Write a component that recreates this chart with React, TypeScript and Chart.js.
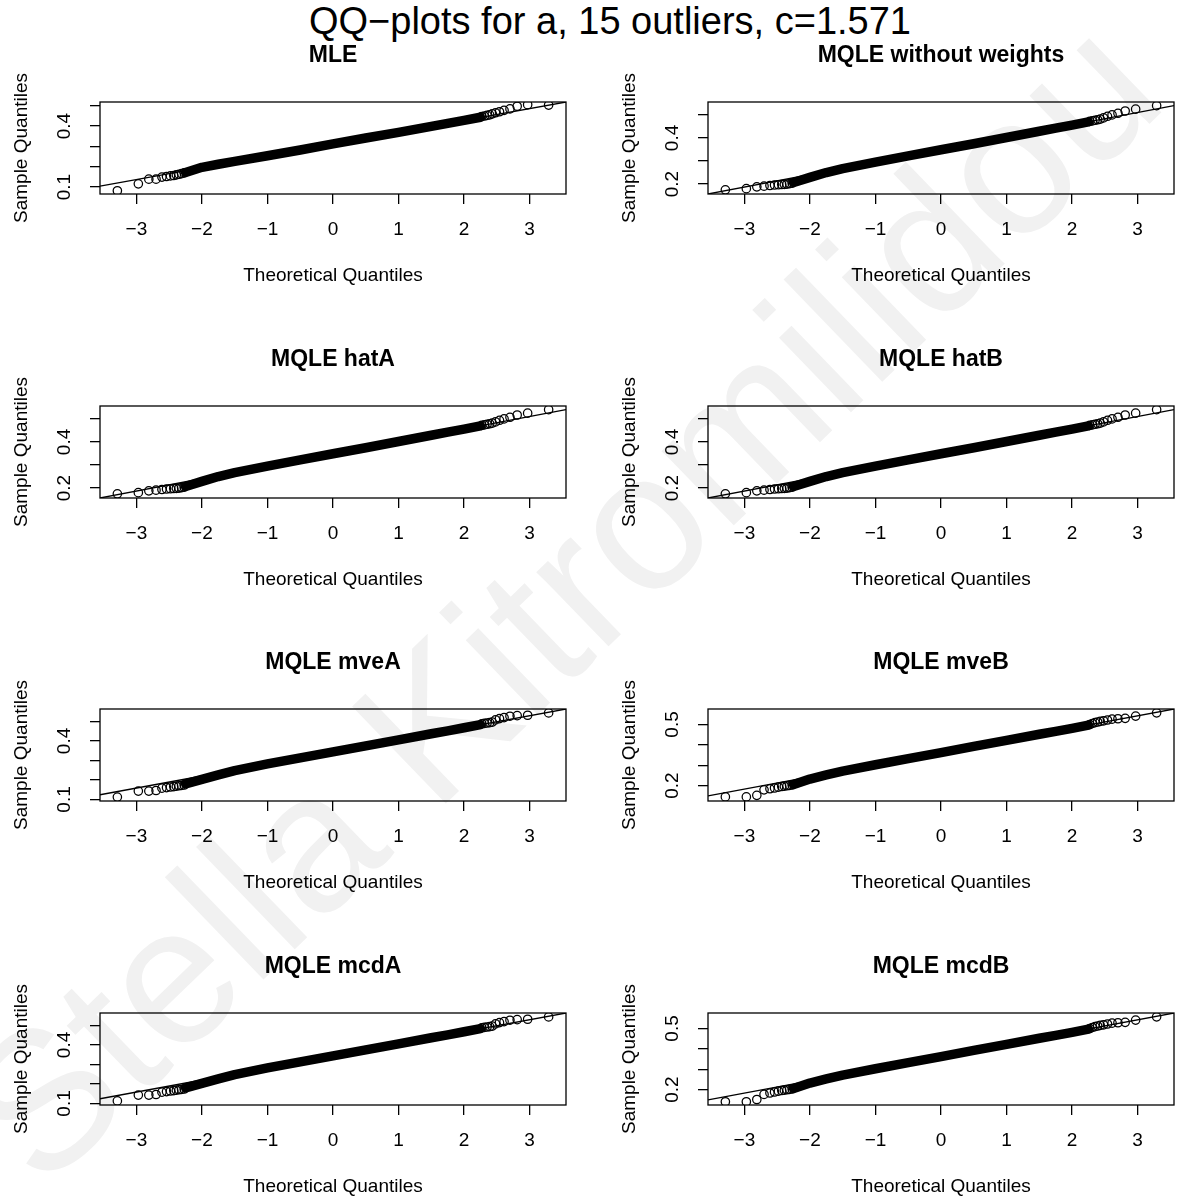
import React, { useEffect, useRef } from "react";
import { Chart, registerables } from "chart.js";

Chart.register(...registerables);

// ---------- text ----------
const MAIN_TITLE = "QQ\u2212plots for a, 15 outliers, c=1.571";
const X_LABEL = "Theoretical Quantiles";
const Y_LABEL = "Sample Quantiles";
const WATERMARK = "Stella Kitromilidou";

// ---------- axes ----------
const X_RANGE = [-3.555, 3.555];
const X_TICKS = [-3, -2, -1, 0, 1, 2, 3];

// theoretical quantiles of the separately visible circles (low / high tails) and of the dense band
const THEO_LOW = [-3.29, -2.97, -2.81, -2.7, -2.61, -2.54, -2.48, -2.43, -2.39, -2.35, -2.31, -2.27];
const THEO_HIGH = [2.27, 2.31, 2.35, 2.39, 2.43, 2.48, 2.54, 2.61, 2.7, 2.81, 2.97, 3.29];
const THEO_BAND = [-2.25, -2.0, -1.75, -1.5, -1.0, -0.5, 0, 0.5, 1.0, 1.5, 1.75, 2.0, 2.25];

// ---------- sample quantiles per panel ----------
const MLE_LOW = [0.082, 0.116, 0.139, 0.139, 0.149, 0.152, 0.155, 0.157, 0.16, 0.163, 0.166, 0.17];
const MLE_BAND = [0.172, 0.197, 0.212, 0.226, 0.254, 0.282, 0.312, 0.341, 0.369, 0.398, 0.413, 0.428, 0.443];
const MLE_HIGH = [0.447, 0.449, 0.452, 0.455, 0.46, 0.465, 0.47, 0.477, 0.484, 0.497, 0.505, 0.503];
const MLE_LINE = [0.105, 0.518];

const NOW_LOW = [0.175, 0.18, 0.188, 0.191, 0.194, 0.196, 0.197, 0.198, 0.199, 0.2, 0.202, 0.204];
const NOW_BAND = [0.207, 0.229, 0.25, 0.267, 0.295, 0.322, 0.349, 0.375, 0.402, 0.429, 0.443, 0.456, 0.47];
const NOW_HIGH = [0.472, 0.474, 0.477, 0.479, 0.482, 0.487, 0.494, 0.5, 0.507, 0.517, 0.525, 0.54];
const NOW_LINE = [0.157, 0.54];

const HATA_LOW = [0.175, 0.18, 0.188, 0.191, 0.194, 0.196, 0.197, 0.198, 0.199, 0.2, 0.202, 0.204];
const HATA_BAND = [0.207, 0.229, 0.25, 0.267, 0.295, 0.322, 0.349, 0.375, 0.402, 0.429, 0.443, 0.456, 0.47];
const HATA_HIGH = [0.472, 0.474, 0.477, 0.479, 0.482, 0.487, 0.494, 0.5, 0.507, 0.517, 0.525, 0.54];
const HATA_LINE = [0.157, 0.54];

const HATB_LOW = [0.175, 0.18, 0.188, 0.191, 0.194, 0.196, 0.197, 0.198, 0.199, 0.2, 0.202, 0.204];
const HATB_BAND = [0.207, 0.229, 0.25, 0.267, 0.295, 0.322, 0.349, 0.375, 0.402, 0.429, 0.443, 0.456, 0.47];
const HATB_HIGH = [0.472, 0.474, 0.477, 0.479, 0.482, 0.487, 0.494, 0.5, 0.507, 0.517, 0.525, 0.54];
const HATB_LINE = [0.157, 0.54];

const MVEA_LOW = [0.112, 0.143, 0.143, 0.146, 0.158, 0.161, 0.164, 0.166, 0.168, 0.17, 0.172, 0.174];
const MVEA_BAND = [0.18, 0.203, 0.226, 0.248, 0.282, 0.313, 0.344, 0.375, 0.406, 0.437, 0.452, 0.468, 0.484];
const MVEA_HIGH = [0.488, 0.49, 0.492, 0.494, 0.497, 0.508, 0.515, 0.52, 0.527, 0.53, 0.532, 0.544];
const MVEA_LINE = [0.124, 0.564];

const MVEB_LOW = [0.144, 0.144, 0.152, 0.179, 0.184, 0.188, 0.192, 0.195, 0.197, 0.199, 0.201, 0.203];
const MVEB_BAND = [0.205, 0.232, 0.252, 0.271, 0.302, 0.332, 0.362, 0.392, 0.422, 0.452, 0.466, 0.481, 0.497];
const MVEB_HIGH = [0.5, 0.505, 0.509, 0.512, 0.515, 0.518, 0.522, 0.526, 0.528, 0.53, 0.541, 0.557];
const MVEB_LINE = [0.149, 0.576];

const MCDA_LOW = [0.113, 0.143, 0.143, 0.146, 0.158, 0.161, 0.164, 0.166, 0.168, 0.17, 0.172, 0.174];
const MCDA_BAND = [0.18, 0.203, 0.226, 0.248, 0.282, 0.313, 0.344, 0.375, 0.406, 0.437, 0.452, 0.468, 0.484];
const MCDA_HIGH = [0.488, 0.49, 0.492, 0.494, 0.497, 0.508, 0.515, 0.52, 0.527, 0.53, 0.532, 0.544];
const MCDA_LINE = [0.124, 0.564];

const MCDB_LOW = [0.14, 0.14, 0.151, 0.176, 0.183, 0.188, 0.192, 0.195, 0.197, 0.199, 0.201, 0.203];
const MCDB_BAND = [0.205, 0.232, 0.252, 0.271, 0.302, 0.332, 0.362, 0.392, 0.422, 0.452, 0.466, 0.481, 0.497];
const MCDB_HIGH = [0.5, 0.505, 0.509, 0.512, 0.515, 0.518, 0.522, 0.526, 0.528, 0.53, 0.541, 0.557];
const MCDB_LINE = [0.149, 0.576];

// y-axis ranges, tick positions and labelled ticks
const Y_RANGE_A = [0.066, 0.518];
const Y_RANGE_B = [0.157, 0.556];
const Y_RANGE_C = [0.092, 0.564];
const Y_RANGE_D = [0.124, 0.576];
const Y_TICKS_A = [0.1, 0.2, 0.3, 0.4, 0.5];
const Y_TICKS_B = [0.2, 0.3, 0.4, 0.5];
const Y_LABELS_A = [0.1, 0.4];
const Y_LABELS_B = [0.2, 0.4];
const Y_LABELS_D = [0.2, 0.5];

type PanelCfg = {
  title: string;
  low: number[];
  band: number[];
  high: number[];
  line: number[];
  yRange: number[];
  yTicks: number[];
  yLabels: number[];
};

const PANELS: PanelCfg[] = [
  { title: "MLE", low: MLE_LOW, band: MLE_BAND, high: MLE_HIGH, line: MLE_LINE, yRange: Y_RANGE_A, yTicks: Y_TICKS_A, yLabels: Y_LABELS_A },
  { title: "MQLE without weights", low: NOW_LOW, band: NOW_BAND, high: NOW_HIGH, line: NOW_LINE, yRange: Y_RANGE_B, yTicks: Y_TICKS_B, yLabels: Y_LABELS_B },
  { title: "MQLE hatA", low: HATA_LOW, band: HATA_BAND, high: HATA_HIGH, line: HATA_LINE, yRange: Y_RANGE_B, yTicks: Y_TICKS_B, yLabels: Y_LABELS_B },
  { title: "MQLE hatB", low: HATB_LOW, band: HATB_BAND, high: HATB_HIGH, line: HATB_LINE, yRange: Y_RANGE_B, yTicks: Y_TICKS_B, yLabels: Y_LABELS_B },
  { title: "MQLE mveA", low: MVEA_LOW, band: MVEA_BAND, high: MVEA_HIGH, line: MVEA_LINE, yRange: Y_RANGE_C, yTicks: Y_TICKS_A, yLabels: Y_LABELS_A },
  { title: "MQLE mveB", low: MVEB_LOW, band: MVEB_BAND, high: MVEB_HIGH, line: MVEB_LINE, yRange: Y_RANGE_D, yTicks: Y_TICKS_B, yLabels: Y_LABELS_D },
  { title: "MQLE mcdA", low: MCDA_LOW, band: MCDA_BAND, high: MCDA_HIGH, line: MCDA_LINE, yRange: Y_RANGE_C, yTicks: Y_TICKS_A, yLabels: Y_LABELS_A },
  { title: "MQLE mcdB", low: MCDB_LOW, band: MCDB_BAND, high: MCDB_HIGH, line: MCDB_LINE, yRange: Y_RANGE_D, yTicks: Y_TICKS_B, yLabels: Y_LABELS_D },
];

// ---------- layout ----------
const FONT = '"Liberation Sans", Arial, Helvetica, sans-serif';
const CANVAS_W = 608;
const CANVAS_H = 296;
const PAD = { left: 90, right: 42, top: 94, bottom: 100 };
const ROW_BOX_TOPS = [102, 406, 709, 1013];
const COL_LEFTS = [0, 608];

const fmtX = (v: number) => (v < 0 ? "\u2212" + Math.abs(v) : String(v));

function Panel({ cfg, left, top }: { cfg: PanelCfg; left: number; top: number }) {
  const ref = useRef<HTMLCanvasElement>(null);
  useEffect(() => {
    const canvas = ref.current;
    if (!canvas) return;
    const decor = {
      id: "decor",
      afterDraw(chart: any) {
        const { ctx, chartArea: a, scales } = chart;
        const xs = scales.x;
        const ys = scales.y;
        ctx.save();
        ctx.fillStyle = "#000";
        ctx.strokeStyle = "#000";
        ctx.lineWidth = 1.3;
        ctx.strokeRect(a.left, a.top, a.right - a.left, a.bottom - a.top);
        ctx.textAlign = "center";
        ctx.textBaseline = "middle";
        ctx.font = `19px ${FONT}`;
        for (const v of X_TICKS) {
          ctx.fillText(fmtX(v), xs.getPixelForValue(v), a.bottom + 36);
        }
        for (const v of cfg.yLabels) {
          const py = ys.getPixelForValue(v);
          ctx.save();
          ctx.translate(a.left - 35, py);
          ctx.rotate(-Math.PI / 2);
          ctx.fillText(v.toFixed(1), 0, 0);
          ctx.restore();
        }
        ctx.fillText(X_LABEL, (a.left + a.right) / 2, a.bottom + 82);
        ctx.save();
        ctx.translate(22, (a.top + a.bottom) / 2);
        ctx.rotate(-Math.PI / 2);
        ctx.fillText(Y_LABEL, 0, 0);
        ctx.restore();
        ctx.font = `bold 23px ${FONT}`;
        ctx.fillText(cfg.title, (a.left + a.right) / 2, a.top - 46);
        ctx.restore();
      },
    };
    const pts = cfg.low
      .map((y, i) => ({ x: THEO_LOW[i], y }))
      .concat(cfg.high.map((y, i) => ({ x: THEO_HIGH[i], y })));
    const chart = new Chart(canvas, {
      type: "scatter",
      data: {
        datasets: [
          {
            data: [
              { x: X_RANGE[0], y: cfg.line[0] },
              { x: X_RANGE[1], y: cfg.line[1] },
            ],
            showLine: true,
            borderColor: "#000",
            borderWidth: 1.3,
            pointRadius: 0,
            clip: 0,
          } as any,
          {
            data: pts,
            showLine: false,
            pointRadius: 4.2,
            pointBorderWidth: 1.25,
            pointBorderColor: "#000",
            pointBackgroundColor: "rgba(0,0,0,0)",
            clip: 0,
          } as any,
          {
            data: THEO_BAND.map((x, i) => ({ x, y: cfg.band[i] })),
            showLine: true,
            borderColor: "#000",
            borderWidth: 9.5,
            borderCapStyle: "round",
            borderJoinStyle: "round",
            pointRadius: 0,
            clip: 0,
          } as any,
        ],
      },
      options: {
        animation: false,
        responsive: false,
        devicePixelRatio: 1,
        events: [],
        layout: { padding: PAD, autoPadding: false } as any,
        plugins: { legend: { display: false }, tooltip: { enabled: false }, title: { display: false } },
        scales: {
          x: {
            type: "linear",
            position: "bottom",
            min: X_RANGE[0],
            max: X_RANGE[1],
            afterBuildTicks: (s: any) => {
              s.ticks = X_TICKS.map((v) => ({ value: v }));
            },
            afterFit: (s: any) => {
              s.height = 10;
            },
            ticks: { display: false },
            grid: { display: true, drawOnChartArea: false, drawTicks: true, tickLength: 10, color: "#000", lineWidth: 1.3 },
            border: { display: false },
          } as any,
          y: {
            type: "linear",
            position: "left",
            min: cfg.yRange[0],
            max: cfg.yRange[1],
            afterBuildTicks: (s: any) => {
              s.ticks = cfg.yTicks.map((v) => ({ value: v }));
            },
            afterFit: (s: any) => {
              s.width = 10;
            },
            ticks: { display: false },
            grid: { display: true, drawOnChartArea: false, drawTicks: true, tickLength: 10, color: "#000", lineWidth: 1.3 },
            border: { display: false },
          } as any,
        },
      },
      plugins: [decor],
    });
    return () => chart.destroy();
  }, [cfg]);
  return (
    <canvas
      ref={ref}
      width={CANVAS_W}
      height={CANVAS_H}
      style={{ position: "absolute", left, top, width: CANVAS_W, height: CANVAS_H }}
    />
  );
}

export default function App() {
  return (
    <div
      style={{
        position: "absolute",
        left: 0,
        top: 0,
        width: 1178,
        height: 1198,
        overflow: "hidden",
        background: "#fff",
      }}
    >
      <div
        style={{
          position: "absolute",
          left: 560,
          top: 600,
          transform: "translate(-50%, -50%) rotate(-44deg)",
          fontFamily: FONT,
          fontSize: 196,
          lineHeight: 1,
          color: "#f1f1f1",
          whiteSpace: "nowrap",
        }}
      >
        {WATERMARK}
      </div>
      <div
        style={{
          position: "absolute",
          left: 0,
          top: 2,
          width: 1220,
          textAlign: "center",
          fontFamily: FONT,
          fontSize: 38,
          lineHeight: "38px",
          color: "#000",
          whiteSpace: "nowrap",
        }}
      >
        {MAIN_TITLE}
      </div>
      {PANELS.map((cfg, i) => (
        <Panel
          key={cfg.title}
          cfg={cfg}
          left={COL_LEFTS[i % 2]}
          top={ROW_BOX_TOPS[Math.floor(i / 2)] - PAD.top}
        />
      ))}
    </div>
  );
}
